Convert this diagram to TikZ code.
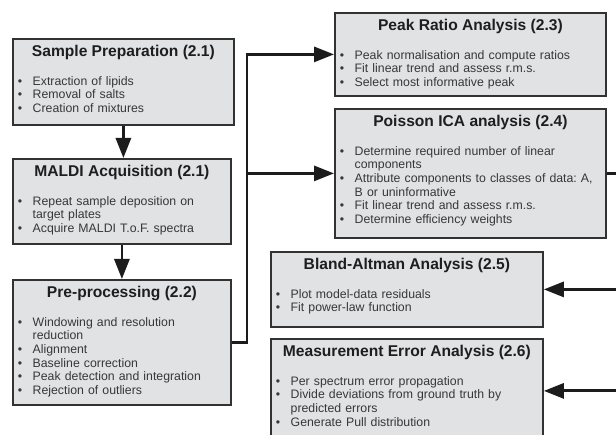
\documentclass[tikz,border=0pt]{standalone}
\usepackage{fontspec}
\setmainfont{Liberation Sans}
\usetikzlibrary{arrows.meta,positioning,calc}
\definecolor{boxfill}{RGB}{225,226,228}
\definecolor{boxedge}{RGB}{50,50,50}
\definecolor{flowink}{RGB}{28,28,28}
\definecolor{bodyink}{RGB}{55,55,55}
\definecolor{headink}{RGB}{30,30,30}
\frenchspacing
\newenvironment{steplist}{%
  \begin{list}{\textbullet}{%
    \setlength{\leftmargin}{20.5pt}\setlength{\labelwidth}{10pt}%
    \setlength{\labelsep}{10.5pt}\setlength{\itemsep}{0pt}%
    \setlength{\parsep}{0pt}\setlength{\topsep}{0pt}%
    \setlength{\partopsep}{0pt}}}%
  {\end{list}}
\tikzset{
  stagebox/.style={draw=boxedge, fill=boxfill, line width=1.8pt,
    anchor=north west, inner sep=0pt},
  stagetitle/.style={anchor=base, inner sep=0pt, text=headink,
    font=\fontsize{15.6}{18}\selectfont\bfseries},
  stagelist/.style={anchor=north west, inner sep=0pt, align=left,
    text=bodyink, font=\fontsize{12.3}{13.6}\selectfont\frenchspacing},
  flowarr/.style={-{Triangle[length=20pt,width=15pt]}, line width=2.8pt, flowink},
}

\begin{document}
\begin{tikzpicture}[x=1pt,y=-1pt]
  \fill[white] (0,0) rectangle (616,435);
  \useasboundingbox (0,0) rectangle (616,435);
  % left column: preparation stages
  \node[stagebox, minimum width=221pt, minimum height=86pt] (sp) at (12,38) {};
  \node[stagebox, minimum width=218pt, minimum height=85pt] (ma) at (12,158) {};
  \node[stagebox, minimum width=218pt, minimum height=125pt] (pp) at (12,279) {};
  % right column: analyses
  \node[stagebox, minimum width=271pt, minimum height=83pt] (pr) at (334,12) {};
  \node[stagebox, minimum width=271pt, minimum height=129pt] (pi) at (334,108) {};
  \node[stagebox, minimum width=272pt, minimum height=75pt] (ba) at (270,251) {};
  \node[stagebox, minimum width=272pt, minimum height=104pt] (me) at (270,338) {};
  % titles
  \node[stagetitle] (sp-t) at ([yshift=-18.5pt]sp.north) {Sample Preparation (2.1)};
  \node[stagetitle] (ma-t) at ([yshift=-18.5pt]ma.north) {MALDI Acquisition (2.1)};
  \node[stagetitle] (pp-t) at ([yshift=-18.5pt]pp.north) {Pre-processing (2.2)};
  \node[stagetitle] (pr-t) at ([yshift=-18.5pt]pr.north) {Peak Ratio Analysis (2.3)};
  \node[stagetitle] (pi-t) at ([yshift=-18.5pt]pi.north) {Poisson ICA analysis (2.4)};
  \node[stagetitle] (ba-t) at ([yshift=-18.5pt]ba.north) {Bland-Altman Analysis (2.5)};
  \node[stagetitle] (me-t) at ([yshift=-18.5pt]me.north) {Measurement Error Analysis (2.6)};
  % bullet lists
  \node[stagelist, text width=200.5pt] (sp-l) at ([yshift=-33.5pt]sp.north west) {%
    \begin{steplist}
      \item Extraction of lipids
      \item Removal of salts
      \item Creation of mixtures
    \end{steplist}};
  \node[stagelist, text width=200.5pt] (ma-l) at ([yshift=-33.5pt]ma.north west) {%
    \begin{steplist}
      \item Repeat sample deposition on target plates
      \item Acquire MALDI T.o.F. spectra
    \end{steplist}};
  \node[stagelist, text width=200.5pt] (pp-l) at ([yshift=-33.5pt]pp.north west) {%
    \begin{steplist}
      \item Windowing and resolution reduction
      \item Alignment
      \item Baseline correction
      \item Peak detection and integration
      \item Rejection of outliers
    \end{steplist}};
  \node[stagelist, text width=260.5pt] (pr-l) at ([yshift=-33.5pt]pr.north west) {%
    \begin{steplist}
      \item Peak normalisation and compute ratios
      \item Fit linear trend and assess r.m.s.
      \item Select most informative peak
    \end{steplist}};
  \node[stagelist, text width=260.5pt] (pi-l) at ([yshift=-33.5pt]pi.north west) {%
    \begin{steplist}
      \item Determine required number of linear components
      \item Attribute components to classes of data: A, B or uninformative
      \item Fit linear trend and assess r.m.s.
      \item Determine efficiency weights
    \end{steplist}};
  \node[stagelist, text width=260.5pt] (ba-l) at ([yshift=-33.5pt]ba.north west) {%
    \begin{steplist}
      \item Plot model-data residuals
      \item Fit power-law function
    \end{steplist}};
  \node[stagelist, text width=260.5pt] (me-l) at ([yshift=-33.5pt]me.north west) {%
    \begin{steplist}
      \item Per spectrum error propagation
      \item Divide deviations from ground truth by predicted errors
      \item Generate Pull distribution
    \end{steplist}};
  % flow down the left column
  \draw[flowarr] (sp.south) -- (sp.south |- ma.north);
  \draw[flowarr] (ma.south) -- (ma.south |- pp.north);
  % trunk to the analyses
  \coordinate (jl) at ($(pi.west)+(-87,0)$);
  \draw[flowarr] (pp.east) -| (jl) |- (pr.west);
  \draw[flowarr] (jl) -- (pi.west);
  % return trunk beyond the right edge
  \coordinate (jr) at ($(pi.east)+(17,0)$);
  \draw[flowarr] (pi.east) -- (jr) |- (me.east);
  \draw[flowarr] (jr) |- (ba.east);
\end{tikzpicture}
\end{document}
